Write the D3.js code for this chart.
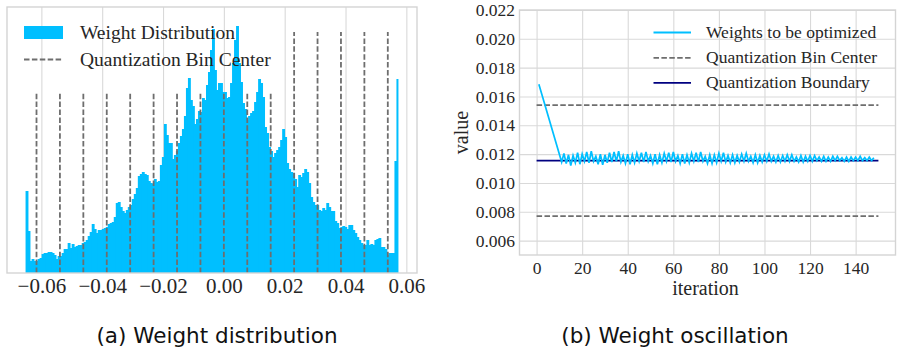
<!DOCTYPE html>
<html>
<head>
<meta charset="utf-8">
<script src="https://cdn.jsdelivr.net/npm/d3@7"></script>
<style>
  html, body { margin: 0; padding: 0; background: #fff; }
  svg { display: block; }
</style>
</head>
<body>
<svg id="chart" width="898" height="347"></svg>
<script>
// ---------------- DATA ----------------
// (a) weight histogram: bar heights (relative counts), evenly spaced bins
const histRange = [-0.0652, 0.0574];
const histCounts = [
  82,42,12,14,12,12,14,15,19,20,
  20,21,21,20,18,14,17,17,20,24,
  24,30,25,29,26,27,28,28,30,31,
  33,37,41,49,44,40,43,43,44,45,
  46,49,50,51,56,70,71,66,62,60,
  63,66,68,74,79,85,97,99,101,99,
  98,92,90,89,94,91,92,108,116,149,
  138,130,130,114,118,122,130,137,144,157,
  185,195,173,167,149,154,162,161,175,173,
  188,201,
  223,244,203,183,190,190,181,181,175,176,
  190,210,233,247,210,191,170,164,153,157,
  160,162,171,181,194,190,176,146,140,126,
  122,116,120,123,126,133,144,136,110,104,
  101,100,94,86,98,96,100,104,101,90,
  76,71,68,68,63,62,65,63,70,66,
  62,62,52,50,45,46,47,46,44,48,
  48,43,40,36,33,30,28,28,33,28,
  29,28,33,34,35,26,26,24,18,20,
  20,20,112,194
];
const histYMax = 266;
const binCenters = [-0.0616,-0.0539,-0.0462,-0.0385,-0.0308,-0.0231,-0.0154,-0.0077,
                    0,0.0077,0.0154,0.0231,0.0308,0.0385,0.0462,0.0539];
const binCenterHeights = [181,181,181,181,181,181,181,181,181,181,181,241,241,241,241,241];
const xTicksA = [-0.06,-0.04,-0.02,0.00,0.02,0.04,0.06];

// (b) weight oscillation
const iterations = [1, 11,12,13,14,15,16,17,18,19,20,21,22,23,24,25,26,27,28,29,30,
  31,32,33,34,35,36,37,38,39,40,41,42,43,44,45,46,47,48,49,50,
  51,52,53,54,55,56,57,58,59,60,61,62,63,64,65,66,67,68,69,70,
  71,72,73,74,75,76,77,78,79,80,81,82,83,84,85,86,87,88,89,90,
  91,92,93,94,95,96,97,98,99,100,101,102,103,104,105,106,107,108,109,110,
  111,112,113,114,115,116,117,118,119,120,121,122,123,124,125,126,127,128,129,130,
  131,132,133,134,135,136,137,138,139,140,141,142,143,144,145,146,147,148,149,150];
const weights = [0.01685, 0.01145,
  0.01205,0.01135,0.01195,0.01120,0.01190,0.01140,0.01210,0.01130,0.01200,0.01150,
  0.01215,0.01140,0.01220,0.01150,0.01185,0.01130,0.01200,0.01125,0.01195,0.01140,
  0.01210,0.01145,0.01215,0.01150,0.01220,0.01145,0.01190,0.01135,0.01200,0.01130,
  0.01195,0.01140,0.01205,0.01150,0.01210,0.01145,0.01215,0.01150,0.01190,0.01135,
  0.01200,0.01130,0.01195,0.01140,0.01205,0.01150,0.01210,0.01145,0.01215,0.01150,
  0.01190,0.01135,0.01200,0.01135,0.01195,0.01140,0.01205,0.01150,0.01210,0.01145,
  0.01215,0.01150,0.01185,0.01135,0.01195,0.01135,0.01195,0.01140,0.01205,0.01150,
  0.01210,0.01145,0.01190,0.01140,0.01195,0.01140,0.01190,0.01145,0.01200,0.01150,
  0.01205,0.01150,0.01185,0.01140,0.01195,0.01140,0.01190,0.01145,0.01195,0.01150,
  0.01200,0.01150,0.01185,0.01145,0.01190,0.01145,0.01190,0.01150,0.01195,0.01150,
  0.01195,0.01150,0.01180,0.01145,0.01190,0.01145,0.01185,0.01150,0.01190,0.01150,
  0.01190,0.01155,0.01180,0.01150,0.01185,0.01150,0.01180,0.01150,0.01185,0.01155,
  0.01185,0.01155,0.01175,0.01150,0.01180,0.01150,0.01180,0.01155,0.01180,0.01155,
  0.01185,0.01155,0.01175,0.01155,0.01180,0.01155,0.01175];
const centerValues = [0.0154, 0.0077];
const boundaryValue = 0.01155;
const refIterRange = [0, 150];
const yTicksB = [0.006,0.008,0.010,0.012,0.014,0.016,0.018,0.020,0.022];
const xTicksB = [0,20,40,60,80,100,120,140];

// ---------------- DRAW ----------------
const svg = d3.select("#chart");
const BLUE = "#00bfff", GRAY = "#6e6e6e", NAVY = "#000080", GRID = "#d9d9d9", TXT = "#262626";
const SERIF = "'Liberation Serif','Times New Roman',serif";

// ===== (a) =====
const A = {l: 7, r: 417, t: 7, b: 273};
const xA = d3.scaleLinear().domain([-0.0713, 0.0635]).range([A.l, A.r]);
const yA = d3.scaleLinear().domain([0, histYMax]).range([A.b, A.t]);
const gA = svg.append("g");

// grid
gA.append("g").attr("transform", `translate(0,${A.b})`)
  .call(d3.axisBottom(xA).tickValues(xTicksA).tickSize(-(A.b - A.t)).tickFormat(""))
  .call(g => g.select(".domain").remove())
  .call(g => g.selectAll("line").attr("stroke", GRID).attr("stroke-width", 1.1));

// histogram
const bw = (histRange[1] - histRange[0]) / histCounts.length;
gA.append("g").selectAll("rect").data(histCounts).join("rect")
  .attr("x", (d, i) => xA(histRange[0] + i * bw))
  .attr("width", (d, i) => xA(histRange[0] + (i + 1) * bw) - xA(histRange[0] + i * bw) + (i < histCounts.length - 1 ? 0.9 : 0))
  .attr("y", d => yA(d))
  .attr("height", d => yA(0) - yA(d))
  .attr("fill", BLUE);

// bin centre lines
gA.append("g").selectAll("line").data(binCenters).join("line")
  .attr("x1", d => xA(d)).attr("x2", d => xA(d))
  .attr("y1", yA(0)).attr("y2", (d, i) => yA(binCenterHeights[i]))
  .attr("stroke", GRAY).attr("stroke-width", 1.8).attr("stroke-dasharray", "5.5,2.4");

// frame
gA.append("rect").attr("x", A.l).attr("y", A.t).attr("width", A.r - A.l).attr("height", A.b - A.t)
  .attr("fill", "none").attr("stroke", "#d4d4d4").attr("stroke-width", 1.4);

// x axis labels
gA.append("g").attr("transform", `translate(0,${A.b})`)
  .call(d3.axisBottom(xA).tickValues(xTicksA).tickSize(0).tickPadding(5).tickFormat(d3.format(".2f")))
  .call(g => g.select(".domain").remove())
  .call(g => g.selectAll("text").attr("font-family", SERIF).attr("font-size", 21).attr("fill", TXT));

// legend
const legA = gA.append("g").attr("font-family", SERIF).attr("font-size", 19.5).attr("fill", TXT);
legA.append("rect").attr("x", 24).attr("y", 26).attr("width", 39).attr("height", 13).attr("fill", BLUE);
legA.append("text").attr("x", 80).attr("y", 38.5).text("Weight Distribution");
legA.append("line").attr("x1", 24).attr("x2", 63).attr("y1", 59.5).attr("y2", 59.5)
  .attr("stroke", GRAY).attr("stroke-width", 1.8).attr("stroke-dasharray", "5.5,2.4");
legA.append("text").attr("x", 80).attr("y", 66).text("Quantization Bin Center");

// ===== (b) =====
const B = {l: 519.5, r: 895.5, t: 10, b: 255};
const xB = d3.scaleLinear().domain([-7.5, 157.5]).range([B.l, B.r]);
const yB = d3.scaleLinear().domain([0.005, 0.022]).range([B.b, B.t]);
const gB = svg.append("g");

gB.append("g").attr("transform", `translate(0,${B.b})`)
  .call(d3.axisBottom(xB).tickValues(xTicksB).tickSize(-(B.b - B.t)).tickFormat(""))
  .call(g => g.select(".domain").remove())
  .call(g => g.selectAll("line").attr("stroke", GRID).attr("stroke-width", 1.1));
gB.append("g").attr("transform", `translate(${B.l},0)`)
  .call(d3.axisLeft(yB).tickValues(yTicksB).tickSize(-(B.r - B.l)).tickFormat(""))
  .call(g => g.select(".domain").remove())
  .call(g => g.selectAll("line").attr("stroke", GRID).attr("stroke-width", 1.1));

gB.append("rect").attr("x", B.l).attr("y", B.t).attr("width", B.r - B.l).attr("height", B.b - B.t)
  .attr("fill", "none").attr("stroke", "#d4d4d4").attr("stroke-width", 1.4);

// reference lines
gB.append("g").selectAll("line").data(centerValues).join("line")
  .attr("x1", xB(refIterRange[0])).attr("x2", xB(refIterRange[1]))
  .attr("y1", d => yB(d)).attr("y2", d => yB(d))
  .attr("stroke", GRAY).attr("stroke-width", 1.8).attr("stroke-dasharray", "5.5,2.4");
gB.append("line")
  .attr("x1", xB(refIterRange[0])).attr("x2", xB(refIterRange[1]))
  .attr("y1", yB(boundaryValue)).attr("y2", yB(boundaryValue))
  .attr("stroke", NAVY).attr("stroke-width", 1.8);

// weight line
gB.append("path").datum(iterations.map((it, i) => [it, weights[i]]))
  .attr("d", d3.line().x(d => xB(d[0])).y(d => yB(d[1])))
  .attr("fill", "none").attr("stroke", BLUE).attr("stroke-width", 1.7).attr("stroke-linejoin", "miter");

// axes labels
gB.append("g").attr("transform", `translate(0,${B.b})`)
  .call(d3.axisBottom(xB).tickValues(xTicksB).tickSize(0).tickPadding(6.5).tickFormat(d3.format("d")))
  .call(g => g.select(".domain").remove())
  .call(g => g.selectAll("text").attr("font-family", SERIF).attr("font-size", 17.5).attr("fill", TXT));
gB.append("g").attr("transform", `translate(${B.l},0)`)
  .call(d3.axisLeft(yB).tickValues(yTicksB).tickSize(0).tickPadding(4.5).tickFormat(d3.format(".3f")))
  .call(g => g.select(".domain").remove())
  .call(g => g.selectAll("text").attr("font-family", SERIF).attr("font-size", 17.5).attr("fill", TXT));

gB.append("text").attr("x", (B.l + B.r) / 2 - 2).attr("y", 294.5).attr("text-anchor", "middle")
  .attr("font-family", SERIF).attr("font-size", 20).attr("fill", TXT).text("iteration");
gB.append("text").attr("transform", `translate(468,${(B.t + B.b) / 2}) rotate(-90)`).attr("text-anchor", "middle")
  .attr("font-family", SERIF).attr("font-size", 20).attr("fill", TXT).text("value");

// legend
const legB = gB.append("g").attr("font-family", SERIF).attr("font-size", 17.5).attr("fill", TXT);
const legItems = [
  {label: "Weights to be optimized", color: BLUE, dash: null, y: 32.5},
  {label: "Quantization Bin Center", color: GRAY, dash: "5.5,2.4", y: 57.8},
  {label: "Quantization Boundary", color: NAVY, dash: null, y: 82.8}
];
legItems.forEach(it => {
  legB.append("line").attr("x1", 653.5).attr("x2", 691).attr("y1", it.y).attr("y2", it.y)
    .attr("stroke", it.color).attr("stroke-width", 1.8).attr("stroke-dasharray", it.dash);
  legB.append("text").attr("x", 706).attr("y", it.y + 5.5).text(it.label);
});

// captions
svg.append("text").attr("x", 217).attr("y", 343).attr("text-anchor", "middle")
  .attr("font-family", "'DejaVu Sans',sans-serif").attr("font-size", 21.5).attr("fill", "#111")
  .text("(a) Weight distribution");
svg.append("text").attr("x", 675).attr("y", 343).attr("text-anchor", "middle")
  .attr("font-family", "'DejaVu Sans',sans-serif").attr("font-size", 21.5).attr("fill", "#111")
  .text("(b) Weight oscillation");
</script>
</body>
</html>
